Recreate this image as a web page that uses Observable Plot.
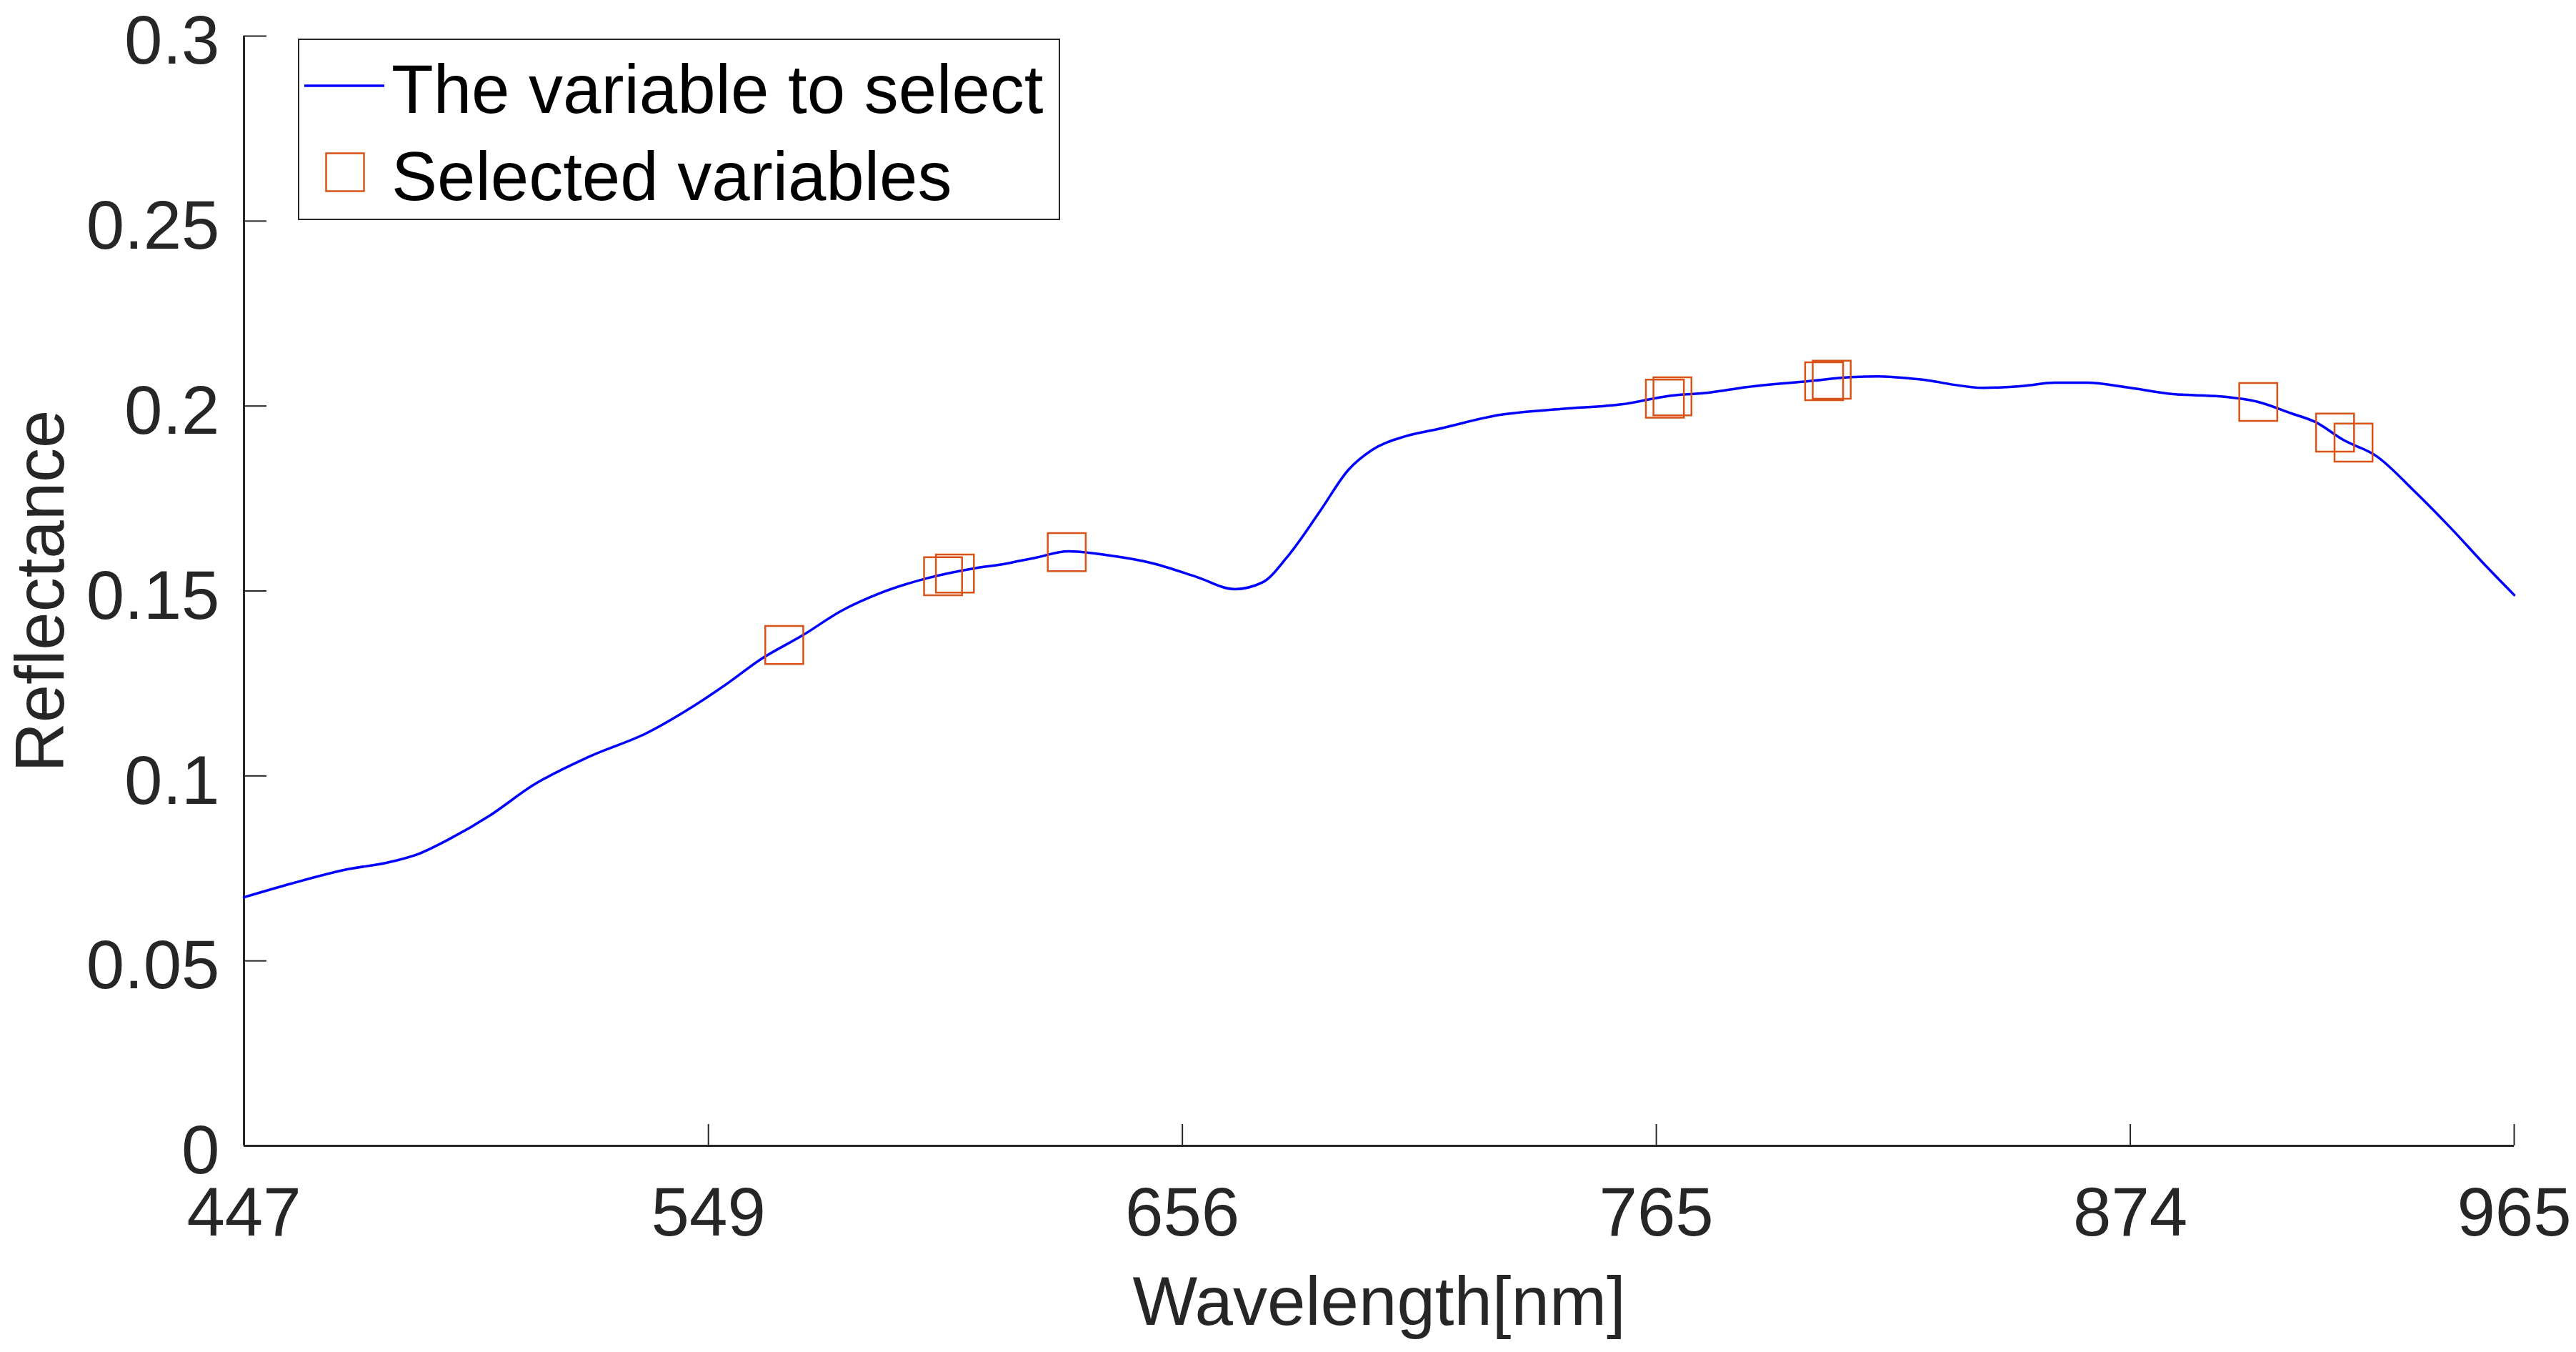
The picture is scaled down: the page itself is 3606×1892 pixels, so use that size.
<!DOCTYPE html>
<html>
<head>
<meta charset="utf-8">
<script src="https://cdn.jsdelivr.net/npm/d3@7"></script>
<script src="https://cdn.jsdelivr.net/npm/@observablehq/plot@0.6"></script>
<style>
  html, body { margin: 0; padding: 0; background: #fff; }
  #wrap { position: relative; width: 3606px; height: 1892px; }
  #legend { position: absolute; left: 0; top: 0; }
</style>
</head>
<body>
<div id="wrap"></div>
<script>
// Band index (x) and reflectance values of the spectrum
const curveIdx = [0, 10, 22, 30, 37, 43, 52, 61, 73, 85, 93, 102, 109, 118, 126, 134, 144, 154, 160, 167, 174, 182, 192, 201, 209, 215, 220, 227, 233, 238, 245, 252, 265, 278, 291, 301, 309, 317, 330, 339, 345, 351, 356, 360, 367, 376, 382, 389, 397, 407, 417, 425, 432, 437, 443, 450, 458, 466, 473, 479];
const curveVal = [0.0672, 0.0709, 0.0748, 0.0765, 0.0790, 0.0827, 0.0894, 0.0975, 0.1053, 0.1116, 0.1174, 0.1250, 0.1315, 0.1381, 0.1446, 0.1493, 0.1534, 0.1561, 0.1572, 0.1590, 0.1607, 0.1597, 0.1574, 0.1538, 0.1505, 0.1524, 0.1590, 0.1715, 0.1827, 0.1881, 0.1918, 0.1938, 0.1976, 0.1992, 0.2005, 0.2028, 0.2036, 0.2051, 0.2067, 0.2078, 0.2080, 0.2075, 0.2068, 0.2059, 0.2049, 0.2055, 0.2063, 0.2063, 0.2051, 0.2032, 0.2026, 0.2011, 0.1980, 0.1957, 0.1908, 0.1864, 0.1769, 0.1665, 0.1568, 0.1489];

// Selected variables
const selIdx = [114, 147.5, 150, 173.6, 299.8, 301.4, 333.4, 335, 425, 441.2, 445.1];
const selVal = [0.1354, 0.1540, 0.1547, 0.1605, 0.2020, 0.2026, 0.2067, 0.2071, 0.2011, 0.1928, 0.1901];

// Axis ticks
const xTickIdx = [0, 98, 198, 298, 398, 479];
const xTickLabels = ["447", "549", "656", "765", "874", "965"];
const yTicks = [0, 0.05, 0.1, 0.15, 0.2, 0.25, 0.3];
const yTickLabels = ["0", "0.05", "0.1", "0.15", "0.2", "0.25", "0.3"];

const legendLabels = ["The variable to select", "Selected variables"];
const xLabel = "Wavelength[nm]";
const yLabel = "Reflectance";

const W = 3606, H = 1892;
const mL = 341, mR = 87, mT = 50, mB = 289;
const axisColor = "#262626";
const lineColor = "#0000FF";
const markColor = "#D95319";
const font = "'Liberation Sans', Arial, Helvetica, sans-serif";

const plot = Plot.plot({
  width: W, height: H,
  marginLeft: mL, marginRight: mR, marginTop: mT, marginBottom: mB,
  style: {fontFamily: font, fontSize: "96px", color: axisColor, background: "#fff", overflow: "visible"},
  x: {domain: [0, 479]},
  y: {domain: [0, 0.3]},
  marks: [
    Plot.axisX({ticks: xTickIdx, tickFormat: d => xTickLabels[xTickIdx.indexOf(d)], tickSize: 0, tickPadding: 57, label: null, fill: axisColor}),
    Plot.axisY({ticks: yTicks, tickFormat: d => yTickLabels[yTicks.indexOf(d)], tickSize: 0, tickPadding: 34, dy: 8, label: null, fill: axisColor}),
    Plot.tickX(xTickIdx, {x: d => d, insetTop: (H - mT - mB) - 30, stroke: axisColor, strokeWidth: 2}),
    Plot.tickY(yTicks, {y: d => d, insetRight: (W - mL - mR) - 32, stroke: axisColor, strokeWidth: 2}),
    Plot.ruleX([0], {stroke: axisColor, strokeWidth: 3}),
    Plot.ruleY([0], {stroke: axisColor, strokeWidth: 3}),
    Plot.line(curveVal, {x: curveIdx, y: curveVal, stroke: lineColor, strokeWidth: 3.5, curve: "monotone-x"}),
    Plot.dot(selVal, {x: selIdx, y: selVal, symbol: "square", r: 30, stroke: markColor, strokeWidth: 2.5, fill: "none"}),
    Plot.text([xLabel], {frameAnchor: "bottom", dy: 250, lineAnchor: "bottom", textAnchor: "middle", fontSize: 96, fill: axisColor}),
    Plot.text([yLabel], {frameAnchor: "left", dx: -253, rotate: -90, lineAnchor: "bottom", textAnchor: "middle", fontSize: 96, fill: axisColor})
  ]
});

const wrap = document.getElementById("wrap");
wrap.appendChild(plot);

// Legend overlay (inside the axes, top-left)
const lg = d3.select(wrap).append("svg")
  .attr("id", "legend")
  .attr("width", W).attr("height", H)
  .style("pointer-events", "none")
  .style("font-family", font);

lg.append("rect").attr("x", 418).attr("y", 55).attr("width", 1065).attr("height", 252)
  .attr("fill", "#fff").attr("stroke", axisColor).attr("stroke-width", 2);
lg.append("line").attr("x1", 426).attr("x2", 538).attr("y1", 120).attr("y2", 120)
  .attr("stroke", lineColor).attr("stroke-width", 3.5);
lg.append("rect").attr("x", 483 - 26.5).attr("y", 241 - 26.5).attr("width", 53).attr("height", 53)
  .attr("fill", "none").attr("stroke", markColor).attr("stroke-width", 2.5);
lg.append("text").attr("x", 548).attr("y", 158).attr("font-size", 96).attr("fill", "#000").text(legendLabels[0]);
lg.append("text").attr("x", 548).attr("y", 280).attr("font-size", 96).attr("fill", "#000").text(legendLabels[1]);
</script>
</body>
</html>
